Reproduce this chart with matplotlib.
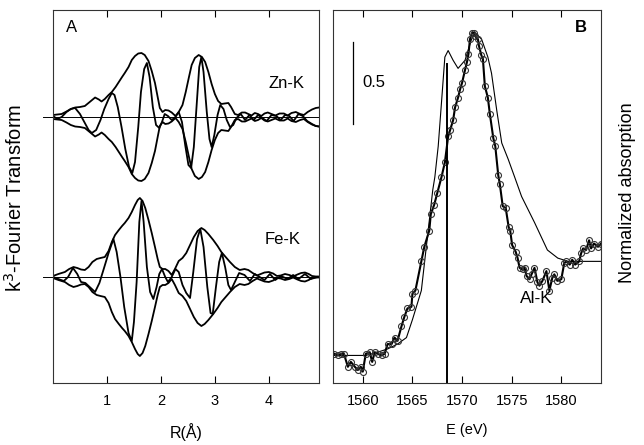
import matplotlib
matplotlib.use("Agg")
import matplotlib.pyplot as plt

plt.rcParams['font.family'] = ['Liberation Sans', 'DejaVu Sans']

# ---- panel A: k3-weighted Fourier transforms (magnitude and imaginary part)
zn_r = [0.00, 0.08, 0.16, 0.25, 0.33, 0.41, 0.50, 0.59, 0.68, 0.78, 0.85, 0.90, 0.96, 1.03,
        1.09, 1.16, 1.22, 1.28, 1.33, 1.40, 1.46, 1.52, 1.58, 1.64, 1.70, 1.77, 1.83, 1.89,
        1.94, 1.98, 2.03, 2.08, 2.14, 2.20, 2.27, 2.33, 2.40, 2.46, 2.52, 2.57, 2.63, 2.70,
        2.76, 2.82, 2.88, 2.94, 3.00, 3.06, 3.12, 3.18, 3.25, 3.30, 3.37, 3.43, 3.50, 3.56,
        3.62, 3.68, 3.74, 3.80, 3.86, 3.92, 3.98, 4.05, 4.12, 4.20, 4.28, 4.35, 4.42, 4.50,
        4.58, 4.65, 4.72, 4.80, 4.87, 4.93]
zn_mag = [0.2, 0.25, 0.3, 0.55, 0.8, 0.95, 1.0, 1.1, 1.5, 1.95, 1.75, 1.55, 1.8, 2.2,
          2.5, 3.0, 3.5, 4.0, 4.4, 5.0, 5.7, 6.1, 6.35, 6.4, 6.2, 5.6, 4.6, 3.4,
          2.0, 0.9, 0.5, 0.7, 0.65, 0.45, 0.1, 0.5, 1.2, 2.5, 4.0, 5.2, 5.9, 6.2,
          6.0, 5.5, 4.5, 3.3, 2.3, 1.6, 1.3, 1.35, 1.4, 1.0, 0.3, 0.2, 0.45, 0.45,
          0.3, 0.15, 0.4, 0.3, 0.1, 0.35, 0.45, 0.3, 0.15, 0.35, 0.35, 0.15, 0.4, 0.5,
          0.3, 0.2, 0.5, 0.75, 0.9, 0.95]

zn_im_r = [0.00, 0.08, 0.16, 0.25, 0.33, 0.41, 0.50, 0.59, 0.66, 0.72, 0.80, 0.88, 0.95, 1.03,
           1.09, 1.14, 1.20, 1.27, 1.34, 1.41, 1.47, 1.52, 1.58, 1.63, 1.69, 1.74, 1.79, 1.85,
           1.91, 1.97, 2.02, 2.07, 2.13, 2.20, 2.27, 2.33, 2.39, 2.45, 2.51, 2.56, 2.61, 2.66,
           2.71, 2.75, 2.79, 2.85, 2.90, 2.94, 2.99, 3.05, 3.10, 3.16, 3.22, 3.28, 3.34, 3.40,
           3.48, 3.56, 3.64, 3.72, 3.80, 3.88, 3.96, 4.05, 4.14, 4.22, 4.30, 4.38, 4.46, 4.55,
           4.63, 4.71, 4.80, 4.87, 4.93]
zn_im = [0.1, -0.2, 0.0, 0.5, 0.8, 0.9, 0.3, -0.6, -1.3, -1.6, -1.3, -0.3, 0.8, 1.8,
         2.4, 2.2, 1.0, -1.0, -3.2, -5.0, -5.6, -4.5, -1.0, 2.5, 4.8, 5.4, 4.0, 1.0,
         -0.8, -1.1, -0.5, 0.3, 0.1, -0.3, 0.0, 0.5, -0.5, -2.8, -4.8, -5.1, -3.0, 1.0,
         5.0, 6.0, 4.5, 0.5, -2.2, -3.0, -1.8, 0.2, 1.2, 0.8, -0.3, -1.0, -0.8, -0.1,
         0.3, -0.3, 0.2, -0.3, 0.2, -0.1, -0.4, 0.2, 0.1, -0.3, 0.2, 0.1, -0.4, 0.3,
         0.1, -0.4, -0.7, -0.9, -0.95]

fe_r = [0.00, 0.10, 0.22, 0.30, 0.38, 0.45, 0.52, 0.59, 0.66, 0.73, 0.81, 0.88, 0.96, 1.03,
        1.09, 1.15, 1.22, 1.28, 1.33, 1.40, 1.46, 1.52, 1.57, 1.61, 1.66, 1.71, 1.77, 1.83,
        1.89, 1.94, 1.98, 2.03, 2.08, 2.14, 2.20, 2.26, 2.33, 2.40, 2.47, 2.54, 2.61, 2.68,
        2.75, 2.81, 2.88, 2.97, 3.05, 3.12, 3.20, 3.28, 3.37, 3.46, 3.55, 3.62, 3.70, 3.78,
        3.85, 3.92, 4.00, 4.08, 4.15, 4.22, 4.30, 4.38, 4.45, 4.53, 4.60, 4.67, 4.74, 4.80,
        4.87, 4.93]
fe_mag = [0.1, 0.3, 0.5, 0.8, 1.0, 0.9, 0.75, 0.7, 1.0, 1.5, 1.8, 1.9, 2.0, 2.6,
          3.5, 4.2, 4.7, 5.1, 5.4, 5.9, 6.5, 7.2, 7.7, 7.9, 7.6, 6.9, 5.7, 4.4,
          3.0, 1.8, 1.0, 0.8, 0.8, 0.6, 0.2, 0.8, 1.6, 1.9, 2.4, 3.2, 4.0, 4.6,
          4.9, 4.7, 4.3, 3.7, 3.1, 2.5, 2.0, 1.5, 1.0, 0.7, 0.8, 0.7, 0.4, 0.15,
          0.3, 0.45, 0.5, 0.35, 0.1, 0.15, 0.3, 0.2, 0.05, 0.25, 0.4, 0.45, 0.3, 0.1,
          0.05, 0.05]

fe_im_r = [0.00, 0.10, 0.20, 0.28, 0.37, 0.45, 0.52, 0.60, 0.70, 0.78, 0.86, 0.94, 1.03, 1.12,
           1.18, 1.25, 1.32, 1.40, 1.46, 1.50, 1.55, 1.60, 1.64, 1.68, 1.74, 1.80, 1.86, 1.92,
           1.97, 2.02, 2.08, 2.13, 2.20, 2.27, 2.33, 2.40, 2.47, 2.54, 2.60, 2.67, 2.73, 2.79,
           2.86, 2.92, 2.96, 3.02, 3.08, 3.13, 3.19, 3.25, 3.30, 3.37, 3.45, 3.55, 3.65, 3.74,
           3.83, 3.92, 4.02, 4.12, 4.22, 4.35, 4.45, 4.55, 4.67, 4.78, 4.90]
fe_im = [0.0, -0.2, -0.4, 0.0, 0.9, 0.3, -0.5, -0.6, -1.1, -1.5, -0.6, 0.8, 2.4, 3.8,
         2.5, 0.0, -3.0, -5.6, -6.4, -4.5, -0.5, 5.5, 7.6, 5.5, 1.0, -1.5, -2.2, -1.0,
         0.3, 0.8, 0.0, -0.5, 0.0, 0.8, 0.5, -0.8, -1.6, -2.1, 0.5, 3.8, 4.8, 3.0,
         -1.0, -3.6, -3.7, -1.0, 1.5, 2.4, 1.0, -0.8, -1.3, -0.5, 0.4, 0.2, -0.4, 0.3,
         0.0, -0.3, 0.3, -0.3, 0.1, -0.2, 0.2, -0.2, 0.3, -0.2, 0.0]

zn_offset = 26.6
fe_offset = 10.6
r_ticks = [1, 2, 3, 4]

# ---- panel B: Al K-edge XANES
al_e = [1557.15, 1557.5, 1557.8, 1558.1, 1558.5, 1558.8, 1559.2, 1559.5, 1559.8, 1560.0,
        1560.3, 1560.7, 1560.95, 1561.2, 1561.5, 1561.9, 1562.2, 1562.5, 1562.9, 1563.2,
        1563.5, 1563.9, 1564.2, 1564.5, 1564.9, 1565.0, 1565.3, 1565.9, 1566.2, 1566.7,
        1566.85, 1567.2, 1567.5, 1567.93, 1568.27, 1568.6, 1568.8, 1569.1, 1569.3, 1569.6,
        1569.8, 1570.0, 1570.3, 1570.5, 1570.65, 1570.8, 1571.0, 1571.2, 1571.3, 1571.6,
        1571.7, 1571.95, 1572.1, 1572.3, 1572.6, 1572.8, 1573.15, 1573.35, 1573.65, 1573.8,
        1574.1, 1574.4, 1574.7, 1574.85, 1575.05, 1575.4, 1575.6, 1575.8, 1576.1, 1576.3,
        1576.5, 1576.8, 1577.0, 1577.3, 1577.6, 1577.8, 1578.1, 1578.5, 1578.8, 1579.1,
        1579.3, 1579.6, 1580.0, 1580.3, 1580.5, 1580.85, 1581.1, 1581.4, 1581.8, 1582.0,
        1582.2, 1582.5, 1582.8, 1583.0, 1583.3, 1583.7, 1584.0]
al_mu = [0.02, 0.01, 0.02, 0.02, -0.06, -0.03, -0.06, -0.08, -0.06, -0.09,
         0.02, 0.03, -0.03, 0.03, 0.02, 0.01, 0.02, 0.08, 0.08, 0.12,
         0.10, 0.19, 0.25, 0.30, 0.31, 0.39, 0.41, 0.59, 0.68, 0.78,
         0.88, 0.94, 1.01, 1.11, 1.20, 1.36, 1.40, 1.46, 1.54, 1.60,
         1.65, 1.69, 1.77, 1.82, 1.87, 1.96, 2.00, 2.00, 1.98, 1.96,
         1.92, 1.86, 1.84, 1.67, 1.60, 1.50, 1.35, 1.30, 1.12, 1.07,
         0.93, 0.92, 0.80, 0.78, 0.69, 0.65, 0.61, 0.55, 0.54, 0.55,
         0.50, 0.48, 0.51, 0.55, 0.46, 0.44, 0.47, 0.53, 0.41, 0.49,
         0.51, 0.47, 0.48, 0.58, 0.59, 0.57, 0.60, 0.57, 0.59, 0.64,
         0.67, 0.66, 0.72, 0.67, 0.70, 0.68, 0.70]

ref_e = [1557.0, 1558.5, 1560.3, 1561.5, 1562.5, 1563.5, 1564.4, 1565.0, 1565.9, 1566.55,
         1567.05, 1567.26, 1567.6, 1567.93, 1568.27, 1568.6, 1569.1, 1569.6, 1570.3, 1570.96,
         1571.3, 1571.97, 1572.6, 1572.97, 1573.5, 1574.0, 1574.65, 1575.3, 1576.0, 1577.3,
         1578.6, 1579.65, 1580.7, 1582.0, 1584.0]
ref_mu = [0.01, 0.01, 0.01, 0.03, 0.05, 0.08, 0.12, 0.23, 0.41, 0.76,
          1.03, 1.11, 1.30, 1.57, 1.85, 1.89, 1.83, 1.78, 1.83, 1.96,
          2.00, 1.96, 1.85, 1.75, 1.52, 1.32, 1.22, 1.11, 0.99, 0.83,
          0.66, 0.61, 0.59, 0.59, 0.59]

edge_e = 1568.5
edge_top = 1.81
e_ticks = [1560, 1565, 1570, 1575, 1580]

fig = plt.figure(figsize=(6.44, 4.45), dpi=100)
axA = fig.add_axes([53 / 644, 1 - 383 / 445, 266 / 644, 373 / 445])
axB = fig.add_axes([333 / 644, 1 - 383 / 445, 268 / 644, 373 / 445])

lw = 1.3
for off, r, mag, ir, im in [(zn_offset, zn_r, zn_mag, zn_im_r, zn_im),
                            (fe_offset, fe_r, fe_mag, fe_im_r, fe_im)]:
    axA.plot([-0.19, 4.93], [off, off], color='black', lw=0.7, clip_on=False)
    axA.plot(r, [off + v for v in mag], color='black', lw=lw)
    axA.plot(r, [off - v for v in mag], color='black', lw=lw)
    axA.plot(ir, [off + v for v in im], color='black', lw=lw)

axA.set_xlim(0, 4.93)
axA.set_ylim(0, 37.3)
axA.set_xticks(r_ticks)
axA.set_yticks([])
axA.text(0.07, 0.952, 'A', transform=axA.transAxes, ha='center', va='center', fontsize=12)
axA.text(4.33, 30.0, 'Zn-K', ha='center', va='center', fontsize=12)
axA.text(4.26, 14.3, 'Fe-K', ha='center', va='center', fontsize=12)
axA.set_xlabel('R(Å)', fontsize=11.5, labelpad=11)

axB.plot(ref_e, ref_mu, color='black', lw=0.8)
axB.plot(al_e, al_mu, color='black', lw=1.5, marker='o', ms=4.3,
         mfc='none', mec='#333333', mew=0.8)
axB.plot([edge_e, edge_e], [-0.2, edge_top], color='black', lw=1.4)
axB.plot([1559.0, 1559.0], [1.44, 1.94], color='black', lw=0.9)
axB.text(1560.0, 1.69, '0.5', ha='left', va='center', fontsize=12)
axB.text(1577.5, 0.36, 'Al-K', ha='center', va='center', fontsize=12.5)
axB.text(0.925, 0.952, 'B', transform=axB.transAxes, ha='center', va='center',
         fontsize=12, fontweight='bold')
axB.set_xlim(1557, 1584)
axB.set_ylim(-0.16, 2.14)
axB.set_xticks(e_ticks)
axB.set_yticks([])
axB.set_xlabel('E (eV)', fontsize=10.5, labelpad=11)

for ax in (axA, axB):
    ax.tick_params(axis='x', direction='in', top=True, bottom=True, length=5,
                   width=0.8, pad=8, labelsize=10.5)
    for s in ax.spines.values():
        s.set_linewidth(0.8)
        s.set_color('#333333')

fig.text(15 / 644, 1 - 198 / 445, 'k$^3$-Fourier Transform', rotation=90,
         ha='center', va='center', fontsize=14.5)
fig.text(628 / 644, 1 - 193 / 445, 'Normalized absorption', rotation=90,
         ha='center', va='center', fontsize=13)

fig.savefig('out.png', dpi=100)
